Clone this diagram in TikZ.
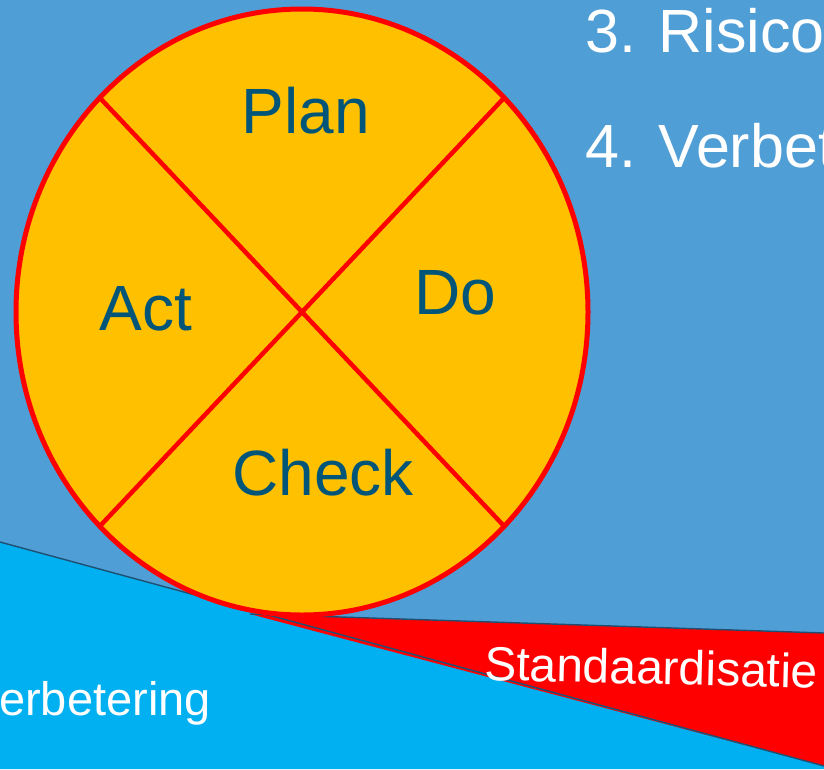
\documentclass[tikz,border=0pt]{standalone}
\usepackage{fontspec}
\setmainfont{Liberation Sans}
\usetikzlibrary{shapes.geometric}
\definecolor{bgblue}{RGB}{80,158,214}
\definecolor{cyanband}{RGB}{0,176,240}
\definecolor{sunyellow}{RGB}{255,192,0}
\definecolor{pdcared}{RGB}{255,0,0}
\definecolor{labelblue}{RGB}{0,85,120}
\definecolor{edgedark}{RGB}{30,80,115}
\tikzset{
  cyclelabel/.style={text=labelblue, font=\fontsize{64}{70}\selectfont, anchor=base, inner sep=0pt},
  whitetext/.style={text=white, inner sep=0pt},
  divider/.style={draw=pdcared, line width=4.5pt},
  edgeline/.style={draw=edgedark, line width=1.4pt}
}
\begin{document}
\begin{tikzpicture}[x=1pt,y=-1pt]
\useasboundingbox (0,0) rectangle (824,769);
\clip (0,0) rectangle (824,769);
\fill[bgblue] (0,0) rectangle (824,769);
% coordinates for bands
\coordinate (bl) at (0,542);
\coordinate (br) at (824,766);
\coordinate (rt) at (250,614);
\coordinate (rr) at (824,633);
% cyan band
\fill[cyanband] (bl) -- (br) -- (824,769) -- (0,769) -- cycle;
% red wedge
\fill[pdcared] (rt) -- (rr) -- (br) -- cycle;
\draw[edgeline] (bl) -- (br);
\draw[edgeline] (rt) -- (rr);
% circle
\node[ellipse, draw=pdcared, fill=sunyellow, line width=5pt, minimum width=572pt, minimum height=606pt, inner sep=0pt, outer sep=0pt] (c) at (302,312) {};
\draw[divider] (c.north west) -- (c.south east);
\draw[divider] (c.north east) -- (c.south west);
% labels
\node[cyclelabel] (plan) at (306,133) {Plan};
\node[cyclelabel] (act) at (146,330) {Act};
\node[cyclelabel] (do) at (455,314) {Do};
\node[cyclelabel] (check) at (323,495) {Check};
% band texts
\node[whitetext, anchor=base west, rotate=-1.4, font=\fontsize{48}{54}\selectfont] (std) at (484,680) {Standaardisatie};
\node[whitetext, anchor=base west, font=\fontsize{47}{52}\selectfont] (verb) at (-1,715) {erbetering};
% list texts
\node[whitetext, anchor=base west, font=\fontsize{61}{68}\selectfont] (item3) at (585,52) {3. Risico};
\node[whitetext, anchor=base west, font=\fontsize{61}{68}\selectfont] (item4) at (585,167) {4. Verbet};
\end{tikzpicture}
\end{document}
